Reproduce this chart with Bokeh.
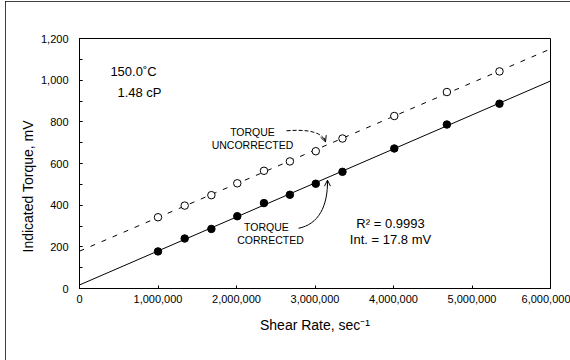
import numpy as np
from bokeh.plotting import figure
from bokeh.models import (Range1d, SingleIntervalTicker, NumeralTickFormatter,
                          Title, Arrow, OpenHead)
from bokeh.core.properties import value
from bokeh.embed import file_html
from bokeh.resources import INLINE

# ---- data ----
shear_rate = [1.00e6, 1.34e6, 1.68e6, 2.01e6, 2.35e6, 2.68e6,
              3.01e6, 3.35e6, 4.01e6, 4.68e6, 5.35e6]
torque_corrected = [178, 240, 286, 347, 410, 450, 503, 560, 672, 787, 887]
torque_uncorrected = [342, 398, 448, 505, 565, 610, 659, 720, 828, 943, 1042]

x_min, x_max = 0, 6_000_000
y_min, y_max = 0, 1200

FONT = "Liberation Sans"

p = figure(width=565, height=359,
           x_range=Range1d(x_min, x_max), y_range=Range1d(y_min, y_max),
           output_backend="svg", toolbar_location=None,
           min_border_left=74, min_border_right=20,
           min_border_top=37, min_border_bottom=72)
p.styles = {"margin-left": "5px", "margin-top": "1px",
            "outline": "1px solid black", "outline-offset": "-1px"}

p.xgrid.visible = False
p.ygrid.visible = False
p.outline_line_color = "black"
p.outline_line_alpha = 1
p.outline_line_width = 1
p.background_fill_color = "white"
p.border_fill_color = "white"

# x axis
xa = p.xaxis[0]
xa.ticker = SingleIntervalTicker(interval=1_000_000, num_minor_ticks=0)
xa.formatter = NumeralTickFormatter(format="0,0")
xa.major_tick_in = 3
xa.major_tick_out = 0
xa.minor_tick_in = 0
xa.minor_tick_out = 0
xa.major_label_standoff = 6
xa.major_label_text_font = FONT
xa.major_label_text_font_size = "11px"
xa.major_label_text_color = "black"
xa.axis_label = "Shear Rate, sec\u207b\u00b9"
xa.axis_label_text_font = FONT
xa.axis_label_text_font_size = "14px"
xa.axis_label_text_font_style = "normal"
xa.axis_label_text_color = "black"
xa.axis_label_standoff = 11
xa.axis_line_color = "black"
xa.major_tick_line_color = "black"

# y axis
ya = p.yaxis[0]
ya.ticker = SingleIntervalTicker(interval=200, num_minor_ticks=2)
ya.formatter = NumeralTickFormatter(format="0,0")
ya.major_tick_in = 3
ya.major_tick_out = 0
ya.minor_tick_in = 3
ya.minor_tick_out = 0
ya.major_label_standoff = 11
ya.major_label_text_font = FONT
ya.major_label_text_font_size = "11px"
ya.major_label_text_color = "black"
ya.axis_line_color = "black"
ya.major_tick_line_color = "black"
ya.minor_tick_line_color = "black"

p.add_layout(Title(text="Indicated Torque, mV", align="left", offset=36,
                   standoff=3, text_font=FONT, text_font_size="14px",
                   text_font_style="normal", text_color="black"), "left")

# ---- fitted lines ----
x_fit = np.array([x_min, x_max], dtype=float)
sc, ic = np.polyfit(shear_rate, torque_corrected, 1)
su, iu = np.polyfit(shear_rate, torque_uncorrected, 1)
p.line(x_fit, su * x_fit + iu, line_color="black", line_width=1, line_dash="5 7")
p.line(x_fit, sc * x_fit + ic, line_color="black", line_width=1)

# ---- points ----
p.scatter(shear_rate, torque_uncorrected, marker="circle", size=7.5,
          fill_color="white", line_color="black", line_width=1)
p.scatter(shear_rate, torque_corrected, marker="circle", size=7.5,
          fill_color="black", line_color="black", line_width=1)

# ---- annotations ----
p.text(x=[2.204e6, 2.204e6, 2.382e6, 2.433e6], y=[752, 689, 294, 231],
       text=["TORQUE", "UNCORRECTED", "TORQUE", "CORRECTED"],
       text_font=value(FONT), text_font_size="10.5px", text_color="black",
       text_align="center", text_baseline="middle")

p.text(x=[0.688e6, 0.764e6], y=[1041, 940], text=["150.0\u02daC", "1.48 cP"],
       text_font=value(FONT), text_font_size="13px", text_color="black",
       text_align="center", text_baseline="middle")

p.text(x=[3.962e6, 3.962e6], y=[310, 235],
       text=["R\u00b2 = 0.9993", "Int. = 17.8 mV"],
       text_font=value(FONT), text_font_size="13px", text_color="black",
       text_align="center", text_baseline="middle")

# curved leader for "TORQUE CORRECTED"
p.bezier(x0=[2.790e6], y0=[289], x1=[3.159e6], y1=[520],
         cx0=[3.045e6], cy0=[308], cx1=[3.165e6], cy1=[395],
         line_color="black", line_width=1)
p.add_layout(Arrow(end=OpenHead(size=6, line_width=1, line_color="black"),
                   x_start=3.159e6, y_start=490, x_end=3.159e6, y_end=520,
                   line_width=1, line_color="black"))

# dashed curved leader for "TORQUE UNCORRECTED"
p.bezier(x0=[2.637e6], y0=[757], x1=[3.134e6], y1=[704],
         cx0=[2.943e6], cy0=[766], cx1=[3.096e6], cy1=[747],
         line_color="black", line_width=1, line_dash="4 2")
p.add_layout(Arrow(end=OpenHead(size=6, line_width=1, line_color="black"),
                   x_start=3.115e6, y_start=723, x_end=3.134e6, y_end=704,
                   line_width=1, line_color="black"))

open("out.html", "w").write(file_html(p, INLINE))
